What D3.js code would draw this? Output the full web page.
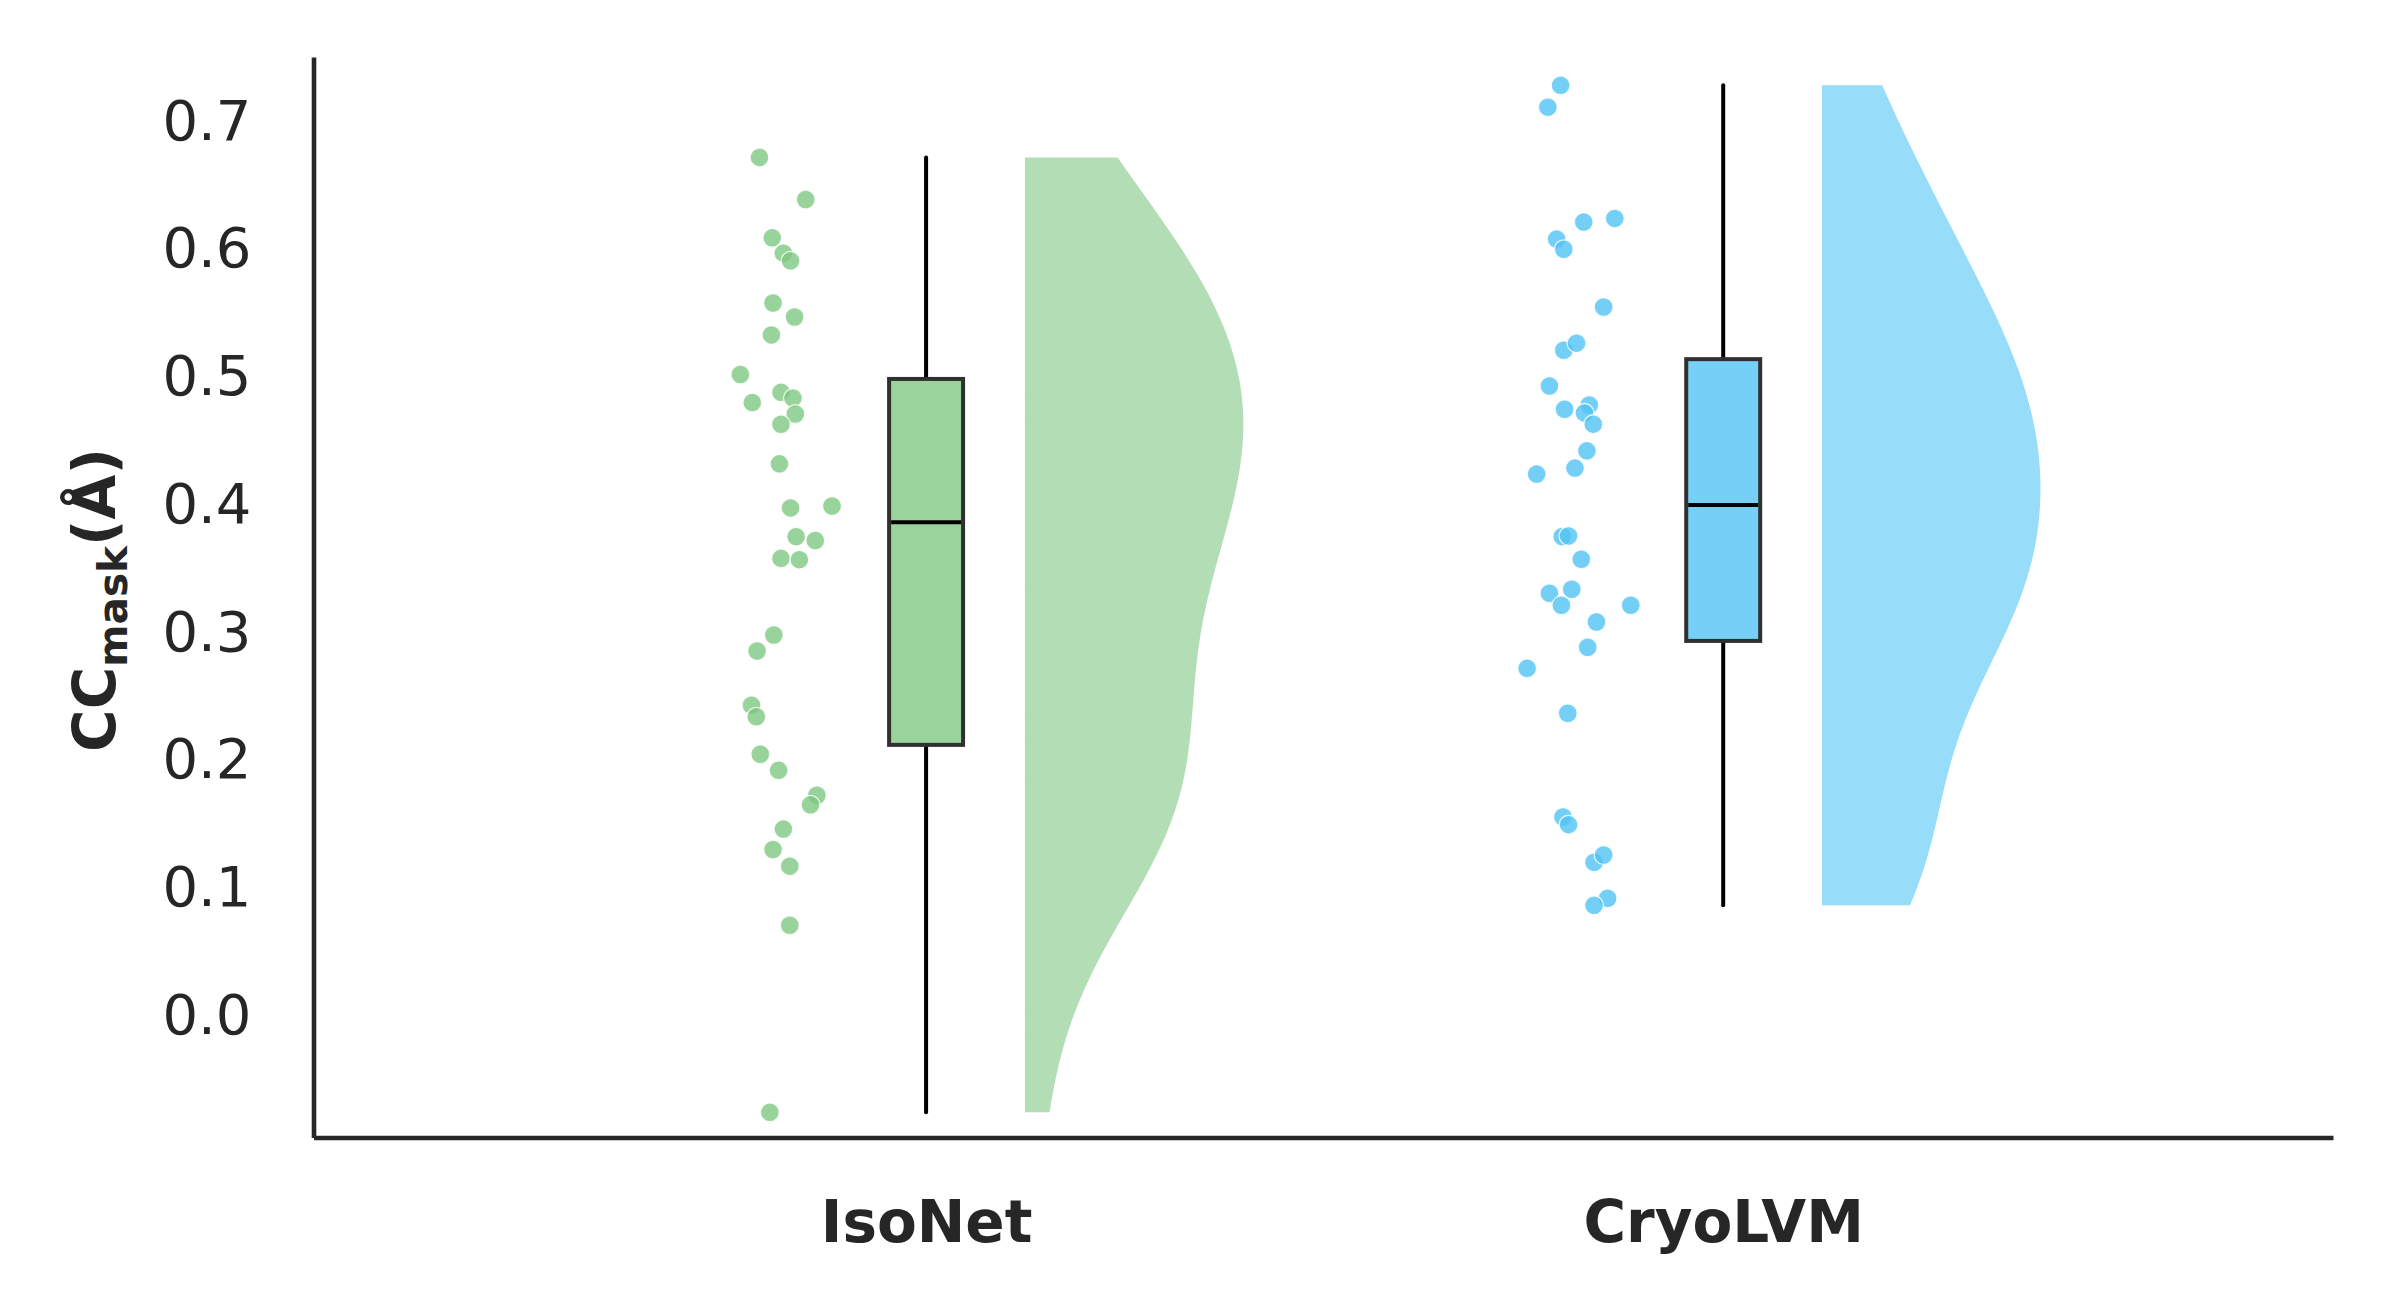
<!DOCTYPE html>
<html>
<head>
<meta charset="utf-8">
<script src="https://cdn.jsdelivr.net/npm/d3@7"></script>
<style>
  html, body { margin: 0; padding: 0; background: #ffffff; }
  svg { display: block; }
</style>
</head>
<body>
<svg id="chart" width="2394" height="1313"></svg>
<script>
// ---------------- DATA ----------------
const categories = ["IsoNet", "CryoLVM"];

const isonetValues = [0.670, 0.637, 0.607, 0.595, 0.589, 0.556, 0.545, 0.531, 0.500, 0.486,
  0.478, 0.4815, 0.469, 0.461, 0.430, 0.3955, 0.397, 0.373, 0.370, 0.356,
  0.355, 0.296, 0.2835, 0.241, 0.232, 0.2026, 0.190, 0.1705, 0.163, 0.144,
  0.128, 0.115, 0.0687, -0.0778];
const isonetJitter = [-0.209, -0.151, -0.193, -0.179, -0.170, -0.192, -0.165, -0.194, -0.233, -0.182,
  -0.218, -0.167, -0.164, -0.182, -0.184, -0.170, -0.118, -0.163, -0.139, -0.182,
  -0.159, -0.191, -0.212, -0.219, -0.213, -0.208, -0.185, -0.137, -0.145, -0.179,
  -0.192, -0.171, -0.171, -0.196];

const cryolvmValues = [0.7264, 0.7093, 0.6193, 0.6222, 0.6060, 0.5981, 0.5528, 0.5190, 0.5245, 0.4910,
  0.4728, 0.4761, 0.4699, 0.4611, 0.4402, 0.4267, 0.4220, 0.3731, 0.3736, 0.3553,
  0.3287, 0.3318, 0.3193, 0.3193, 0.3062, 0.2864, 0.2699, 0.2347, 0.1535, 0.1475,
  0.1180, 0.1237, 0.0898, 0.0843];
const cryolvmJitter = [-0.204, -0.220, -0.175, -0.136, -0.209, -0.200, -0.150, -0.200, -0.184, -0.218,
  -0.199, -0.168, -0.174, -0.163, -0.171, -0.186, -0.234, -0.202, -0.194, -0.178,
  -0.218, -0.190, -0.203, -0.116, -0.159, -0.170, -0.246, -0.195, -0.201, -0.194,
  -0.162, -0.150, -0.145, -0.162];

const yTicks = [0.0, 0.1, 0.2, 0.3, 0.4, 0.5, 0.6, 0.7];
const yTickLabels = ["0.0", "0.1", "0.2", "0.3", "0.4", "0.5", "0.6", "0.7"];

// ---------------- STYLE ----------------
const pointColors = ["#7ec882", "#50c3f4"];
const boxColors = ["#9ad39b", "#75cff6"];
const violinColors = ["#b3deb5", "#97dcf9"];
const textColor = "#262626";
const fontFamily = "'DejaVu Sans', 'Liberation Sans', sans-serif";

const series = [
  { name: categories[0], values: isonetValues, jitter: isonetJitter, i: 0 },
  { name: categories[1], values: cryolvmValues, jitter: cryolvmJitter, i: 1 }
];

// ---------------- SCALES ----------------
const x = d3.scaleLinear().domain([-0.7685, 1.765]).range([313.5, 2333]);
const y = d3.scaleLinear().domain([-0.0975, 0.7486]).range([1137.5, 57]);

const svg = d3.select("#chart");

const boxHalf = 0.0464;      // half box width, category units
const violinOffset = 0.124;  // gap from category centre to violin edge
const violinWidth = 0.274;   // max violin half-width, category units

// ---------------- VIOLINS (KDE, Scott bandwidth, cut = 0) ----------------
series.forEach(s => {
  const vals = s.values.slice().sort(d3.ascending);
  const n = vals.length;
  const bw = Math.pow(n, -1 / 5) * d3.deviation(vals);
  const lo = vals[0], hi = vals[n - 1];
  const grid = d3.range(0, 201).map(k => lo + (hi - lo) * k / 200);
  const dens = grid.map(g => [g, d3.sum(vals, v => Math.exp(-0.5 * ((g - v) / bw) ** 2))]);
  const maxD = d3.max(dens, d => d[1]);
  const x0 = s.i + violinOffset;
  const area = d3.area()
    .y(d => y(d[0]))
    .x0(() => x(x0))
    .x1(d => x(x0 + violinWidth * d[1] / maxD))
    .curve(d3.curveLinear);
  svg.append("path")
    .attr("d", area(dens))
    .attr("fill", violinColors[s.i])
    .attr("stroke", "none");
});

// ---------------- BOXES ----------------
series.forEach(s => {
  const vals = s.values.slice().sort(d3.ascending);
  const q1 = d3.quantile(vals, 0.25);
  const med = d3.quantile(vals, 0.5);
  const q3 = d3.quantile(vals, 0.75);
  const iqr = q3 - q1;
  const wLo = d3.min(vals.filter(v => v >= q1 - 1.5 * iqr));
  const wHi = d3.max(vals.filter(v => v <= q3 + 1.5 * iqr));
  const cx = x(s.i);
  const g = svg.append("g");
  g.append("line")
    .attr("x1", cx).attr("x2", cx).attr("y1", y(q3)).attr("y2", y(wHi))
    .attr("stroke", "#000").attr("stroke-width", 4).attr("stroke-linecap", "round");
  g.append("line")
    .attr("x1", cx).attr("x2", cx).attr("y1", y(q1)).attr("y2", y(wLo))
    .attr("stroke", "#000").attr("stroke-width", 4).attr("stroke-linecap", "round");
  g.append("rect")
    .attr("x", x(s.i - boxHalf)).attr("width", x(s.i + boxHalf) - x(s.i - boxHalf))
    .attr("y", y(q3)).attr("height", y(q1) - y(q3))
    .attr("fill", boxColors[s.i]).attr("stroke", "#2f302f").attr("stroke-width", 4);
  g.append("line")
    .attr("x1", x(s.i - boxHalf) + 2).attr("x2", x(s.i + boxHalf) - 2)
    .attr("y1", y(med)).attr("y2", y(med))
    .attr("stroke", "#000").attr("stroke-width", 4);
});

// ---------------- POINTS ----------------
series.forEach(s => {
  svg.append("g").selectAll("circle")
    .data(s.values.map((v, k) => ({ v, j: s.jitter[k] })))
    .join("circle")
    .attr("cx", d => x(s.i + d.j))
    .attr("cy", d => y(d.v))
    .attr("r", 9.4)
    .attr("fill", pointColors[s.i])
    .attr("fill-opacity", 0.8)
    .attr("stroke", "#ffffff")
    .attr("stroke-opacity", 0.8)
    .attr("stroke-width", 1.3);
});

// ---------------- AXES ----------------
const yAxis = d3.axisLeft(y)
  .tickValues(yTicks)
  .tickFormat((d, k) => yTickLabels[k])
  .tickSizeInner(0).tickSizeOuter(0).tickPadding(62);
const gy = svg.append("g").attr("transform", "translate(313.5,0)").call(yAxis);
gy.select(".domain").attr("stroke", textColor).attr("stroke-width", 4.6);
gy.selectAll("text")
  .attr("font-family", fontFamily).attr("font-size", 56)
  .attr("fill", textColor).attr("dy", "0.36em");

const xAxis = d3.axisBottom(x)
  .tickValues([0, 1])
  .tickFormat((d) => categories[d])
  .tickSizeInner(0).tickSizeOuter(0).tickPadding(63);
const gx = svg.append("g").attr("transform", "translate(0,1137.5)").call(xAxis);
gx.select(".domain").attr("stroke", textColor).attr("stroke-width", 4.6);
gx.selectAll("text")
  .attr("font-family", fontFamily).attr("font-size", 58)
  .attr("font-weight", "bold").attr("fill", textColor);

// ---------------- Y LABEL ----------------
const yl = svg.append("text")
  .attr("transform", "translate(115,600) rotate(-90)")
  .attr("text-anchor", "middle")
  .attr("font-family", fontFamily)
  .attr("font-size", 58)
  .attr("font-weight", "bold")
  .attr("fill", textColor);
yl.append("tspan").text("CC");
yl.append("tspan").attr("font-size", 40.6).attr("dy", 12).text("mask");
yl.append("tspan").attr("dy", -12).text("(Å)");
</script>
</body>
</html>
